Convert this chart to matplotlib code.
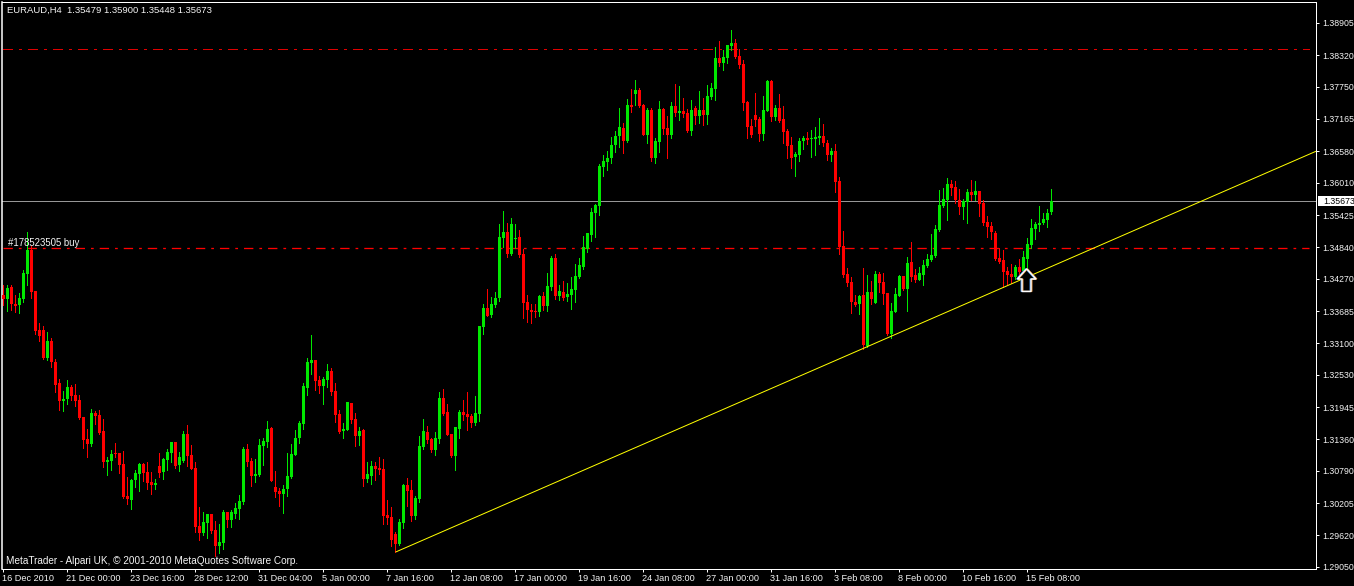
import numpy as np
import matplotlib
matplotlib.use('Agg')
import matplotlib.pyplot as plt
from matplotlib.patches import Polygon, Rectangle
from matplotlib.transforms import ScaledTranslation

# H4 candles, prices in 1/10000 (13416 = 1.3416)
highs = [
    13416,13416,13416,13397,13401,13443,13512,13486,13405,13347,
    13341,13330,13320,13282,13245,13223,13243,13234,13236,13216,
    13176,13155,13191,13187,13189,13173,13104,13117,13129,13111,
    13115,13068,13064,13080,13093,13093,13095,13077,13064,13111,
    13102,13118,13131,13131,13113,13151,13162,13126,13095,13013,
    13004,13001,13001,12988,12982,13008,13004,13008,13020,13035,
    13122,13127,13102,13100,13137,13138,13169,13158,13078,13048,
    13053,13111,13127,13153,13169,13238,13283,13325,13280,13251,
    13249,13272,13265,13238,13189,13165,13204,13202,13184,13158,
    13155,13095,13097,13095,13104,13100,13026,13013,12968,12992,
    13055,13066,13062,13033,13142,13173,13160,13138,13149,13222,
    13227,13200,13146,13158,13189,13207,13222,13182,13214,13341,
    13381,13408,13394,13403,13526,13550,13528,13537,13526,13515,
    13481,13398,13381,13381,13398,13403,13437,13468,13472,13416,
    13423,13419,13430,13454,13465,13505,13510,13555,13563,13635,
    13651,13659,13684,13695,13737,13709,13753,13771,13787,13773,
    13744,13737,13737,13682,13749,13737,13722,13747,13780,13776,
    13755,13735,13751,13740,13767,13755,13778,13782,13847,13858,
    13842,13851,13878,13862,13843,13824,13749,13717,13764,13720,
    13758,13787,13787,13742,13762,13740,13698,13684,13657,13682,
    13686,13693,13697,13702,13718,13707,13678,13664,13671,13611,
    13513,13446,13430,13397,13397,13446,13434,13423,13441,13439,
    13437,13401,13383,13410,13434,13432,13466,13494,13445,13448,
    13461,13472,13508,13524,13588,13591,13610,13606,13604,13590,
    13571,13590,13606,13604,13586,13570,13541,13530,13513,13483,
    13479,13448,13454,13452,13463,13477,13501,13535,13530,13559,
    13546,13553,13590]
body_tops = [
    13397,13410,13412,13381,13392,13437,13479,13479,13405,13334,
    13334,13314,13314,13276,13238,13209,13231,13231,13216,13207,
    13176,13137,13184,13184,13180,13151,13098,13109,13111,13111,
    13091,13033,13062,13075,13091,13091,13077,13059,13057,13088,
    13100,13113,13131,13131,13104,13146,13146,13108,13084,12979,
    12986,13001,13001,12972,12950,13004,13004,13004,13011,13024,
    13118,13118,13097,13073,13126,13133,13155,13156,13049,13042,
    13046,13069,13109,13138,13165,13233,13276,13280,13280,13243,
    13245,13260,13260,13224,13182,13155,13204,13202,13173,13151,
    13153,13073,13088,13088,13084,13082,12999,12995,12964,12986,
    13053,13053,13044,13030,13124,13151,13149,13136,13138,13211,
    13211,13185,13146,13158,13185,13185,13182,13178,13184,13341,
    13374,13374,13381,13392,13503,13512,13512,13526,13501,13503,
    13472,13385,13370,13369,13396,13396,13414,13465,13465,13405,
    13403,13399,13408,13432,13452,13485,13510,13548,13561,13631,
    13640,13646,13669,13686,13702,13700,13742,13742,13769,13769,
    13742,13733,13733,13677,13735,13735,13700,13740,13740,13731,
    13731,13727,13733,13737,13733,13733,13758,13773,13827,13827,
    13829,13851,13854,13854,13831,13816,13747,13704,13724,13717,
    13733,13785,13785,13737,13737,13717,13695,13669,13653,13677,
    13682,13682,13682,13684,13686,13686,13673,13658,13658,13604,
    13486,13435,13421,13385,13396,13397,13403,13403,13435,13435,
    13421,13401,13368,13399,13432,13432,13456,13457,13434,13437,
    13452,13463,13470,13517,13561,13571,13599,13599,13593,13570,
    13568,13584,13584,13586,13586,13564,13530,13523,13510,13465,
    13461,13441,13435,13448,13448,13466,13490,13519,13526,13528,
    13535,13546,13567]
body_bottoms = [
    13391,13390,13381,13377,13379,13390,13436,13403,13332,13323,
    13283,13283,13276,13234,13205,13205,13209,13214,13205,13175,
    13135,13127,13127,13178,13147,13095,13095,13097,13109,13089,
    13031,13028,13026,13062,13073,13075,13057,13053,13053,13075,
    13077,13098,13111,13088,13089,13097,13106,13082,12977,12966,
    12966,12984,12970,12943,12943,12948,12990,12990,13001,13010,
    13022,13095,13069,13069,13071,13124,13131,13060,13040,13037,
    13037,13046,13068,13107,13138,13164,13229,13274,13242,13233,
    13233,13243,13222,13180,13149,13151,13153,13171,13142,13142,
    13064,13064,13069,13082,13080,12997,12993,12953,12946,12946,
    12984,13042,12997,12997,13028,13122,13135,13116,13116,13136,
    13182,13144,13106,13106,13155,13180,13176,13165,13165,13182,
    13340,13359,13361,13379,13392,13501,13472,13472,13499,13470,
    13383,13370,13367,13367,13367,13378,13378,13412,13396,13396,
    13392,13394,13398,13407,13430,13448,13481,13506,13546,13559,
    13630,13639,13646,13669,13686,13677,13677,13738,13762,13740,
    13688,13688,13646,13646,13675,13698,13688,13688,13727,13727,
    13726,13695,13695,13722,13722,13724,13724,13756,13771,13818,
    13818,13827,13849,13829,13814,13746,13702,13688,13715,13689,
    13689,13731,13720,13720,13713,13693,13668,13646,13648,13651,
    13677,13678,13680,13680,13682,13673,13651,13651,13602,13484,
    13434,13419,13385,13379,13381,13307,13305,13390,13383,13419,
    13399,13327,13327,13367,13396,13408,13408,13430,13425,13425,
    13434,13450,13461,13468,13515,13559,13570,13591,13570,13557,
    13557,13566,13579,13579,13562,13528,13521,13512,13463,13457,
    13439,13434,13430,13430,13439,13441,13463,13488,13517,13524,
    13528,13533,13548]
lows = [
    13379,13368,13370,13367,13365,13385,13416,13392,13327,13314,
    13282,13280,13267,13222,13189,13187,13200,13207,13196,13173,
    13120,13104,13124,13164,13146,13086,13071,13080,13104,13075,
    13030,13019,13010,13050,13042,13060,13046,13037,13046,13068,
    13064,13080,13095,13084,13079,13095,13088,13082,12968,12953,
    12963,12957,12966,12924,12930,12937,12977,12977,12993,12992,
    13019,13088,13051,13059,13069,13089,13122,13060,13031,13015,
    13002,13033,13066,13107,13129,13155,13216,13254,13225,13220,
    13200,13231,13216,13167,13147,13138,13153,13165,13124,13126,
    13051,13059,13055,13062,13073,12982,12982,12943,12932,12944,
    12975,13015,12988,12992,13022,13118,13129,13113,13107,13129,
    13180,13144,13104,13080,13138,13171,13153,13158,13162,13169,
    13327,13359,13358,13376,13387,13485,13466,13470,13483,13466,
    13356,13349,13347,13358,13360,13370,13369,13407,13390,13389,
    13389,13387,13372,13385,13428,13445,13476,13495,13503,13543,
    13613,13624,13637,13657,13666,13655,13675,13729,13742,13738,
    13688,13673,13640,13637,13657,13689,13646,13682,13722,13715,
    13720,13693,13688,13708,13709,13706,13708,13753,13751,13813,
    13805,13818,13842,13827,13809,13733,13682,13684,13704,13677,
    13679,13731,13713,13715,13711,13673,13646,13628,13613,13640,
    13662,13671,13648,13651,13671,13668,13642,13640,13584,13472,
    13430,13414,13365,13377,13363,13300,13303,13381,13383,13403,
    13381,13325,13320,13367,13396,13407,13368,13423,13421,13425,
    13416,13448,13459,13466,13513,13557,13533,13579,13564,13544,
    13535,13528,13570,13570,13541,13524,13503,13499,13461,13456,
    13412,13417,13419,13427,13434,13430,13446,13483,13499,13513,
    13526,13521,13545]
# R = bear candle, G = bull candle
directions = ("RGRRGGGRRR" "RGRRRGGRRR" "RRGRRRGGRR" "RRGGGRRRGR" "GGGRGGRRRR"
              "GGRRGGRGGG" "GRRGGGGRRR" "GGGGGGGGRR" "GGRRRGGRRG" "RGGRRRRRRG"
              "GRRGGGRRGG" "RRRGGRRRGG" "GRGGGGRGGR" "RRRRGRGGRG" "RGGGGGGGGG"
              "GGGGGRGRGR" "RGRGGRRGRG" "RRGRGRGGGR" "GGGRRRRRRR" "GGRGRRRRGG"
              "GRGGGRRGRR" "RRRRGRGRGR" "RRGGGRGRRG" "GGGGGGGRRR" "GGRGRRRRRR"
              "RRRGRGGGGG" "GGG")

price_ticks = [1.38905, 1.38320, 1.37750, 1.37165, 1.36580, 1.36010, 1.35425, 1.34840,
               1.34270, 1.33685, 1.33100, 1.32530, 1.31945, 1.31360, 1.30790, 1.30205,
               1.29620, 1.29050]
time_labels = ['16 Dec 2010', '21 Dec 00:00', '23 Dec 16:00', '28 Dec 12:00', '31 Dec 04:00',
               '5 Jan 00:00', '7 Jan 16:00', '12 Jan 08:00', '17 Jan 00:00', '19 Jan 16:00',
               '24 Jan 08:00', '27 Jan 00:00', '31 Jan 16:00', '3 Feb 08:00', '8 Feb 00:00',
               '10 Feb 16:00', '15 Feb 08:00']
last_price = 1.35673
order_price = 1.3482
upper_level = 1.38428
level_bars = [0, 326.5]
trend_bars = [98.15, 328.15]
trend_prices = [1.2932, 1.3658]
# arrow outline in bars / prices
arrow_bars = [255.8, 258.15, 256.9, 256.9, 254.65, 254.65, 253.5]
arrow_prices = [1.3445, 1.34265, 1.34265, 1.34040, 1.34040, 1.34265, 1.34265]

W, H = 1354, 586
plt.rcParams['font.family'] = ['Liberation Sans', 'DejaVu Sans']
FS = 6.6
TXT = '#f4f4f4'
px = 0.72

fig = plt.figure(figsize=(W / 100, H / 100), dpi=100, facecolor='black')
ax = fig.add_axes([2.0 / W, 1 - 569.3 / H, 1314.3 / W, 567.0 / H], facecolor='black')
ax.set_xlim(-0.35, 328.225)
ax.set_ylim(1.29004, 1.39280)

x = np.arange(len(highs))
hi = np.array(highs) / 1e4
lo = np.array(lows) / 1e4
top = np.array(body_tops) / 1e4
bot = np.array(body_bottoms) / 1e4
colors = np.where(np.array(list(directions)) == 'G', '#00e800', '#ff0000')

ax.vlines(x, lo, hi, colors=colors, lw=px, antialiased=False, zorder=2)
ax.bar(x, top - bot, bottom=bot, width=0.75, color=colors, linewidth=0, antialiased=False, zorder=3)

ax.axhline(last_price, color='#969696', lw=px, antialiased=False, zorder=1)
pattern = (0, (9.3, 6, 2.7, 6))
ax.plot(level_bars, [order_price] * 2, color='#ff0000', lw=px * 1.3, ls=(0, (7.2, 4.6, 2.1, 4.6)), zorder=1.5)
ax.plot(level_bars, [upper_level] * 2, color='#e00000', lw=px, ls=pattern, antialiased=False, zorder=1.5)
ax.plot(trend_bars, trend_prices, color='#ffff00', lw=px, zorder=4)

# hand drawn arrow on the trend line, blue and orange fringes as on the screenshot
ab = np.array(arrow_bars)
ap = np.array(arrow_prices)
ax.add_patch(Polygon(np.c_[ab, ap], closed=True, fc='black', ec='none', zorder=5))
ax.add_patch(Polygon(np.c_[ab - 0.2, ap], closed=True, fc='none', ec='#4a90e0', lw=1.0, zorder=5.1))
ax.add_patch(Polygon(np.c_[ab + 0.2, ap], closed=True, fc='none', ec='#e09040', lw=1.0, zorder=5.2))
ax.add_patch(Polygon(np.c_[ab, ap], closed=True, fc='none', ec='white', lw=1.0, zorder=5.3))

ax.set_yticks(price_ticks)
ax.set_yticklabels([f'{t:.5f}' for t in price_ticks])
ax.yaxis.tick_right()
ax.set_xticks(np.arange(len(time_labels)) * 16)
ax.set_xticklabels(time_labels, ha='left')
ax.tick_params(axis='x', colors='white', labelcolor=TXT, labelsize=FS, length=2.5, width=px, pad=0.6)
ax.tick_params(axis='y', colors='white', labelcolor=TXT, labelsize=6.3, length=2.2, width=px, pad=2.2)
for lab in ax.get_xticklabels():
    lab.set_transform(lab.get_transform() + ScaledTranslation(-1 / 100, 0, fig.dpi_scale_trans))
for s in ax.spines.values():
    s.set_color('white')
    s.set_linewidth(px)
ax.spines['left'].set_linewidth(1.1)

# current price tag
tag = ax.get_yaxis_transform()
ax.add_patch(Rectangle((1.0013, last_price - 0.0009), 0.0274, 0.0018, fc='white', ec='none', clip_on=False,
                       zorder=7, transform=tag))
ax.text(1.0051, last_price, f'{last_price:.5f}', color='black', fontsize=6.3, va='center',
        transform=tag, clip_on=False, zorder=8)

fig.text(7 / W, 1 - 10.5 / H, 'EURAUD,H4  1.35479 1.35900 1.35448 1.35673', color=TXT, fontsize=6.8, va='center')
fig.text(8 / W, 1 - 243 / H, '#178523505 buy', color=TXT, fontsize=6.95, va='center')
fig.text(6 / W, 1 - 561 / H, 'MetaTrader - Alpari UK, © 2001-2010 MetaQuotes Software Corp.', color=TXT, fontsize=7.2, va='center')

fig.savefig('out.png', dpi=100, facecolor='black')
